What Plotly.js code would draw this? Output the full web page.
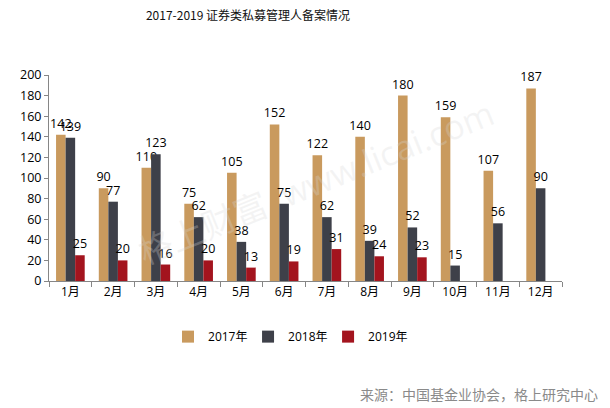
<!DOCTYPE html>
<html><head><meta charset="utf-8">
<script src="https://cdn.plot.ly/plotly-3.0.1.min.js"></script>
<style>body{margin:0;background:#fff}#c{width:610px;height:408px}</style>
</head><body><div id="c"></div>
<script>
const months = ["1月","2月","3月","4月","5月","6月","7月","8月","9月","10月","11月","12月"];
const v2017 = [142,90,110,75,105,152,122,140,180,159,107,187];
const v2018 = [139,77,123,62,38,75,62,39,52,15,56,90];
const v2019 = [25,20,16,20,13,19,31,24,23,null,null,null];
const seriesNames = ["2017年","2018年","2019年"];
const colors = ["#C99A5E","#3E4049","#A3141E"];
const font = "Open Sans, Noto Sans CJK SC, sans-serif";
const legendIds = ["legend","legend2","legend3"];
function tr(vals, i){
  return {type:"bar", x:months, y:vals, name:seriesNames[i], legend:legendIds[i],
    marker:{color:colors[i]},
    text:vals.map(v=>v==null?"":String(v)), textposition:"outside", constraintext:"none",
    textfont:{size:12.5,color:"#000",family:font}, cliponaxis:false};
}
const data=[tr(v2017,0),tr(v2018,1),tr(v2019,2)];
function leg(x){
  return {orientation:"h",x:x,xanchor:"left",y:-0.27,yanchor:"middle",font:{size:12,family:font},
    itemwidth:30,bgcolor:"rgba(0,0,0,0)"};
}
const layout={
  width:610,height:408,
  margin:{l:49,r:48,t:75,b:127},
  paper_bgcolor:"#fff",plot_bgcolor:"#fff",
  font:{family:font,size:12,color:"#000"},
  title:{text:"2017-2019 证券类私募管理人备案情况",x:248/610,xanchor:"center",y:0.962,yanchor:"middle",
    font:{size:12,color:"#111",family:"Noto Sans CJK SC, sans-serif"}},
  bargap:0.33,bargroupgap:0,
  xaxis:{type:"category",showline:true,linecolor:"#868686",linewidth:1,ticks:"outside",tickson:"boundaries",
    ticklen:5,tickcolor:"#868686",showgrid:false,tickfont:{size:12,family:font},zeroline:false},
  yaxis:{range:[0,200],dtick:20,showline:true,linecolor:"#868686",linewidth:1,ticks:"outside",ticklen:4,
    tickcolor:"#868686",showgrid:false,zeroline:false,tickfont:{size:12.5,family:font}},
  showlegend:true,
  legend:leg(0.232), legend2:leg(0.388), legend3:leg(0.544),
  annotations:[
    {text:"来源：中国基金业协会，格上研究中心",xref:"paper",yref:"paper",x:1.074,xanchor:"right",y:-0.55,yanchor:"middle",
     showarrow:false,font:{size:14,color:"#8a8a8a",family:"Noto Sans CJK SC, sans-serif"}},
    {text:"格上财富  www.licai.com",xref:"paper",yref:"paper",x:0.52,y:0.48,showarrow:false,textangle:-22,
     font:{size:34,color:"rgba(215,215,215,0.28)",family:font}}
  ]
};
Plotly.newPlot("c",data,layout,{staticPlot:true});
</script></body></html>
